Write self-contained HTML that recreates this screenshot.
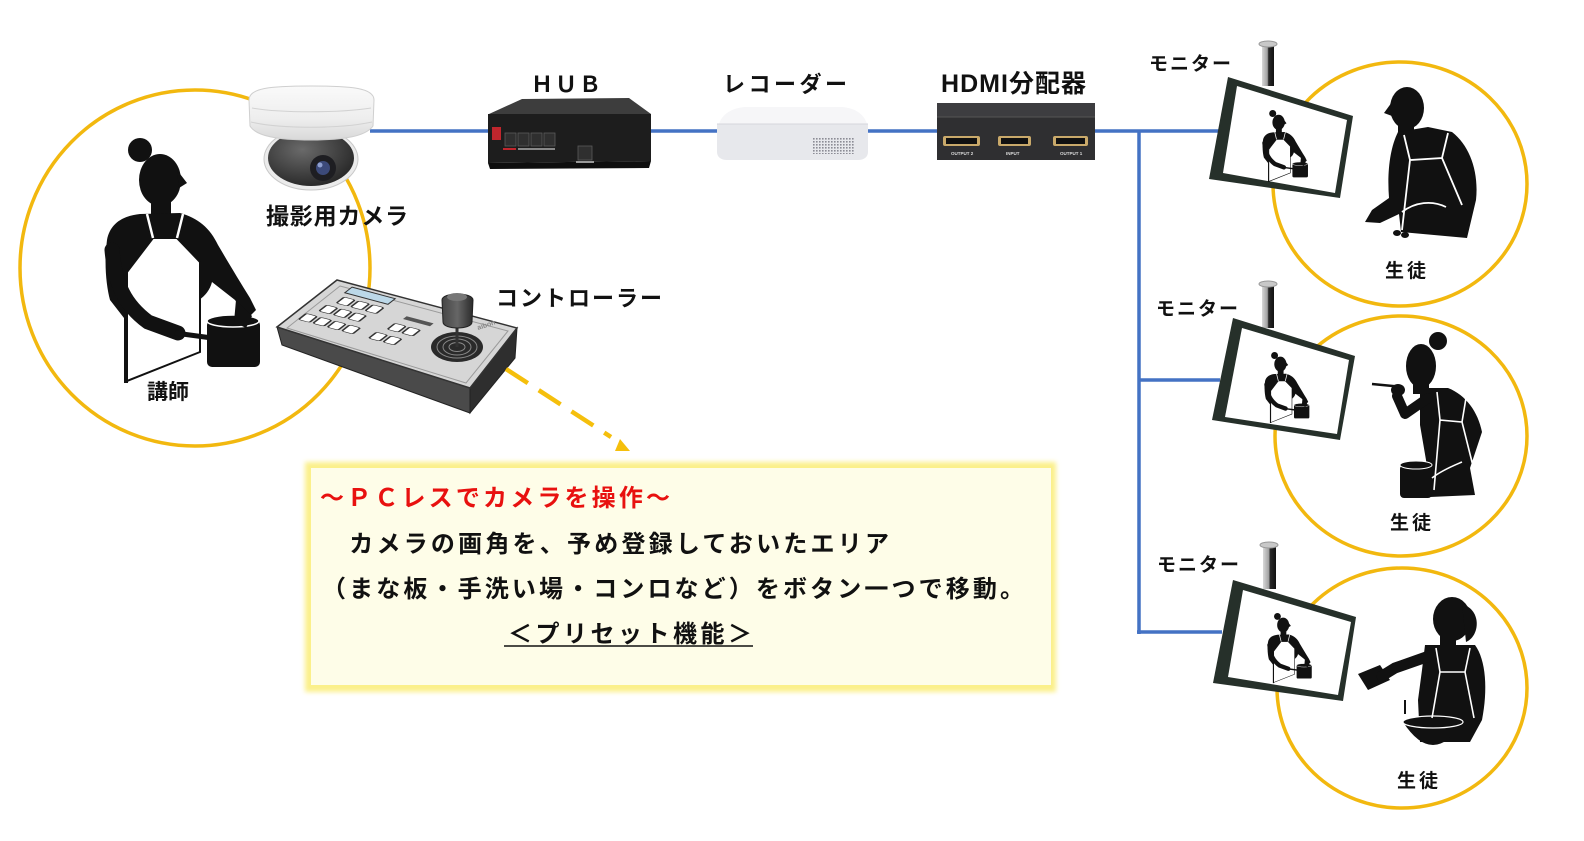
<!DOCTYPE html>
<html><head><meta charset="utf-8">
<style>
html,body{margin:0;padding:0;background:#fff;}
svg{display:block;}
text{font-family:"Liberation Sans","Noto Sans CJK JP",sans-serif;font-weight:bold;}
</style></head><body>
<svg width="1584" height="841" viewBox="0 0 1584 841" xmlns="http://www.w3.org/2000/svg">
<defs>
 <filter id="glow" x="-5%" y="-10%" width="110%" height="120%"><feGaussianBlur stdDeviation="2.5"/></filter>
 <linearGradient id="pole" x1="0" x2="1"><stop offset="0" stop-color="#d8d8d8"/><stop offset="0.45" stop-color="#a0a0a0"/><stop offset="0.55" stop-color="#2a2a2a"/><stop offset="1" stop-color="#111"/></linearGradient>
 <linearGradient id="domeg" x1="0" y1="0" x2="0" y2="1"><stop offset="0" stop-color="#fafafa"/><stop offset="0.6" stop-color="#eeeeee"/><stop offset="1" stop-color="#d9d9d9"/></linearGradient>
 <radialGradient id="lensg" cx="0.4" cy="0.35" r="0.7"><stop offset="0" stop-color="#6a6a6a"/><stop offset="1" stop-color="#262626"/></radialGradient>
 <linearGradient id="knob" x1="0" x2="1"><stop offset="0" stop-color="#444"/><stop offset="0.5" stop-color="#666"/><stop offset="1" stop-color="#2a2a2a"/></linearGradient>
 <pattern id="vent" width="3" height="3" patternUnits="userSpaceOnUse"><rect width="1.6" height="1.6" fill="#8c8c95"/></pattern>
 <g id="teacher">
  <circle cx="140" cy="150" r="12" fill="#111"/>
  <ellipse cx="160" cy="180" rx="21" ry="26" fill="#111"/>
  <path d="M177,170 L187,183 L179,188 Z" fill="#111"/>
  <rect x="151" y="198" width="20" height="20" fill="#111"/>
  <path d="M140,214 C122,216 110,224 107,240 C104,262 106,285 110,300 L124,318 L124,383 L128,383 L130,330 L198,346 L199,300 C205,296 210,290 212,282 L235,300 L248,318 L256,310 L250,298 C240,282 228,262 218,245 C210,228 198,218 180,213 Z" fill="#111"/>
  <path d="M153,238 L177,238 L200,262 L200,352 L127,381 L127,272 Z" fill="#fff" stroke="#111" stroke-width="2"/>
  <path d="M147,214 L153,238 M183,214 L177,238" stroke="#fff" stroke-width="2.5" fill="none"/>
  <path d="M112,250 C115,285 125,305 148,322 L178,333" fill="none" stroke="#111" stroke-width="15" stroke-linecap="round" stroke-linejoin="round"/>
  <path d="M175,333 L212,338" stroke="#111" stroke-width="5"/>
  <rect x="207" y="320" width="53" height="47" rx="5" fill="#111"/>
  <ellipse cx="233" cy="321" rx="26" ry="6" fill="#111" stroke="#fff" stroke-width="1.5"/>
  <path d="M236,300 L252,316 L246,328 L234,322 Z" fill="#111"/>
 </g>
</defs>

<!-- circles -->
<g fill="none" stroke="#f2b80f" stroke-width="3.5">
 <ellipse cx="195" cy="268" rx="175" ry="178"/>
 <ellipse cx="1400" cy="184" rx="127" ry="122"/>
 <ellipse cx="1401" cy="436" rx="126" ry="120"/>
 <ellipse cx="1402" cy="688" rx="125" ry="120"/>
</g>

<!-- blue connectors -->
<g stroke="#4472c4" stroke-width="3.5" fill="none">
 <line x1="370" y1="131" x2="490" y2="131"/>
 <line x1="648" y1="131" x2="719" y2="131"/>
 <line x1="866" y1="131" x2="939" y2="131"/>
 <line x1="1093" y1="131" x2="1220" y2="131"/>
 <line x1="1139" y1="131" x2="1139" y2="634"/>
 <line x1="1139" y1="380" x2="1220" y2="380"/>
 <line x1="1137" y1="632" x2="1222" y2="632"/>
</g>

<!-- teacher -->
<use href="#teacher"/>
<text x="147" y="399" font-size="21" textLength="42" fill="#111">講師</text>

<!-- camera -->
<g>
 <ellipse cx="311" cy="159" rx="47" ry="31" fill="#ebebeb" stroke="#c8c8c8"/>
 <ellipse cx="311" cy="158" rx="43" ry="28" fill="url(#lensg)"/>
 <circle cx="323" cy="168" r="13" fill="#1e1e22"/>
 <circle cx="323" cy="168" r="7" fill="#3c4a7a"/>
 <circle cx="320" cy="165" r="2.5" fill="#8fa0d0"/>
 <path d="M249,100 C249,88 270,86 311,86 C352,86 374,88 374,100 L373,126 C366,136 345,140 311,140 C277,140 256,136 250,126 Z" fill="url(#domeg)" stroke="#cfcfcf"/>
 <path d="M252,108 C280,113 340,113 371,108" stroke="#d2d2d2" fill="none"/>
 <path d="M251,122 C280,129 340,129 372,122" stroke="#d2d2d2" fill="none"/>
</g>
<text x="266" y="224" font-size="23" textLength="142" fill="#111">撮影用カメラ</text>

<!-- controller -->
<g>
 <path d="M277,327 L470,388 L470,413 L282,345 Z" fill="#4a4a4a" stroke="#222"/>
 <path d="M470,388 L517,328 L515,358 L470,413 Z" fill="#2e2e2e" stroke="#222"/>
 <path d="M337,280 L517,328 L470,388 L277,327 Z" fill="#d6d6d6" stroke="#333" stroke-width="1.5"/>
 <path d="M340,286 L508,331 L466,383 L287,328 Z" fill="none" stroke="#9a9a9a"/>
 <g transform="matrix(1.8,0.48,-0.6,0.47,337,280)">
  <rect x="10" y="5" width="24" height="12" fill="#bcd8e8" stroke="#333" stroke-width="1" vector-effect="non-scaling-stroke"/>
  <g fill="#fff" stroke="#333" stroke-width="1" vector-effect="non-scaling-stroke">
   <rect x="12" y="24" width="6" height="13" rx="1.5"/><rect x="20" y="24" width="6" height="13" rx="1.5"/><rect x="28" y="24" width="6" height="13" rx="1.5"/>
   <rect x="9" y="44" width="6" height="13" rx="1.5"/><rect x="17" y="44" width="6" height="13" rx="1.5"/><rect x="25" y="44" width="6" height="13" rx="1.5"/>
   <rect x="5" y="66" width="6" height="13" rx="1.5"/><rect x="13" y="66" width="6" height="13" rx="1.5"/><rect x="21" y="66" width="6" height="13" rx="1.5"/><rect x="29" y="66" width="6" height="13" rx="1.5"/>
   <rect x="47" y="44" width="6" height="13" rx="1.5"/><rect x="55" y="44" width="6" height="13" rx="1.5"/>
   <rect x="44" y="66" width="6" height="13" rx="1.5"/><rect x="52" y="66" width="6" height="13" rx="1.5"/>
  </g>
  <rect x="48" y="28" width="15" height="6" fill="#555"/>
 </g>
 <ellipse cx="457" cy="347" rx="26" ry="15" fill="#2a2a2a"/>
 <g fill="none" stroke="#888" stroke-width="1">
  <ellipse cx="457" cy="347" rx="20" ry="11"/><ellipse cx="457" cy="347" rx="14" ry="8"/><ellipse cx="457" cy="347" rx="8" ry="4.5"/>
 </g>
 <line x1="457" y1="326" x2="457" y2="347" stroke="#333" stroke-width="3"/>
 <path d="M442,300 C442,292 473,292 473,300 L472,322 C472,330 443,330 443,322 Z" fill="url(#knob)" stroke="#222"/>
 <ellipse cx="457" cy="297" rx="10" ry="4" fill="#777"/>
 <text x="478" y="330" font-size="7" fill="#888" transform="rotate(-18 478 330)">aibon</text>
</g>
<text x="496" y="306" font-size="22" textLength="166" fill="#111">コントローラー</text>

<!-- dashed arrow -->
<line x1="506" y1="369" x2="611" y2="437" stroke="#f5bf0c" stroke-width="4.5" stroke-dasharray="26 13"/>
<path d="M615,451 L630,451 L620,439 Z" fill="#f5bf0c"/>

<!-- HUB -->
<g>
 <path d="M489,114 L522,99 L629,98 L651,114 Z" fill="#3d3d3d"/>
 <path d="M488,114 L651,114 L651,161 L488,163 Z" fill="#1d1d1d"/>
 <path d="M488,163 L651,161 L649,168 L490,169 Z" fill="#0e0e0e"/>
 <rect x="492" y="127" width="9" height="13" fill="#c0262d"/>
 <g fill="#2f2f2f" stroke="#5a5a5a" stroke-width="0.8">
  <rect x="505" y="133" width="11" height="13"/><rect x="518" y="133" width="11" height="13"/><rect x="531" y="133" width="11" height="13"/><rect x="544" y="133" width="11" height="13"/>
  <rect x="578" y="146" width="14" height="14"/>
 </g>
 <rect x="503" y="148" width="13" height="2" fill="#c0262d"/>
 <rect x="518" y="148" width="37" height="2" fill="#888"/>
 <rect x="576" y="161" width="18" height="2" fill="#999"/>
</g>
<text x="531" y="92" font-size="22" textLength="70" fill="#111">ＨＵＢ</text>

<!-- recorder -->
<g>
 <path d="M719,124 C722,114 732,108 745,107 L842,107 C855,108 864,114 867,124 Z" fill="#f6f6f8"/>
 <path d="M717,124 L868,124 L868,152 C868,157 864,160 858,160 L727,160 C721,160 717,157 717,152 Z" fill="#e7e8ec"/>
 <line x1="717" y1="124" x2="868" y2="124" stroke="#d5d6dc"/>
 <rect x="813" y="138" width="42" height="16" fill="url(#vent)"/>
</g>
<text x="723" y="92" font-size="22" textLength="124" fill="#111">レコーダー</text>

<!-- HDMI splitter -->
<g>
 <rect x="937" y="103" width="158" height="57" fill="#2f2f31"/>
 <rect x="937" y="103" width="158" height="14" fill="#3d3d40"/>
 <line x1="937" y1="117" x2="1095" y2="117" stroke="#555"/>
 <g fill="#c9a96a"><rect x="943" y="136" width="37" height="10" rx="2"/><rect x="998" y="136" width="33" height="10" rx="2"/><rect x="1053" y="136" width="35" height="10" rx="2"/></g>
 <g fill="#111"><rect x="946" y="138" width="31" height="6"/><rect x="1001" y="138" width="27" height="6"/><rect x="1056" y="138" width="29" height="6"/></g>
 <g fill="#ddd" font-size="4.5"><text x="951" y="155">OUTPUT 2</text><text x="1006" y="155">INPUT</text><text x="1060" y="155">OUTPUT 1</text></g>
</g>
<text x="941" y="92" font-size="25" textLength="145" fill="#111">HDMI分配器</text>

<!-- monitors -->
<g>
 <rect x="1262" y="44" width="12" height="42" fill="url(#pole)"/>
 <ellipse cx="1268" cy="44" rx="9" ry="3" fill="#c8c8c8" stroke="#999"/>
 <polygon points="1228,77 1353,116 1340,198 1209,179" fill="#26302a"/>
 <polygon points="1237,86 1347,120 1335,193 1223,173" fill="#fff"/>
 <use href="#teacher" transform="translate(1263,110) scale(0.294) translate(-107,-138)"/>

 <rect x="1262" y="284" width="12" height="44" fill="url(#pole)"/>
 <ellipse cx="1268" cy="284" rx="9" ry="3" fill="#c8c8c8" stroke="#999"/>
 <polygon points="1233,318 1355,356 1340,440 1212,420" fill="#26302a"/>
 <polygon points="1242,328 1349,360 1337,434 1225,417" fill="#fff"/>
 <use href="#teacher" transform="translate(1265,352) scale(0.29) translate(-107,-138)"/>

 <rect x="1263" y="545" width="13" height="44" fill="url(#pole)"/>
 <ellipse cx="1269" cy="545" rx="9" ry="3" fill="#c8c8c8" stroke="#999"/>
 <polygon points="1233,580 1356,617 1343,701 1213,683" fill="#26302a"/>
 <polygon points="1243,590 1351,622 1338,695 1228,677" fill="#fff"/>
 <use href="#teacher" transform="translate(1268,613) scale(0.286) translate(-107,-138)"/>
</g>
<g font-size="19" fill="#111">
 <text x="1149" y="70" textLength="82">モニター</text>
 <text x="1156" y="315" textLength="82">モニター</text>
 <text x="1157" y="571" textLength="82">モニター</text>
 <text x="1385" y="277" textLength="41">生徒</text>
 <text x="1390" y="529" textLength="41">生徒</text>
 <text x="1397" y="787" textLength="41">生徒</text>
</g>

<!-- student 1 -->
<g fill="#111">
 <ellipse cx="1407" cy="108" rx="17" ry="21"/>
 <path d="M1392,102 L1384,113 L1392,116 Z"/>
 <rect x="1398" y="122" width="16" height="14"/>
 <path d="M1398,132 C1390,148 1387,172 1389,198 L1372,210 L1365,222 L1380,223 L1399,214 L1401,232 L1467,238 L1476,200 C1479,172 1470,146 1452,132 L1428,127 Z"/>
 <ellipse cx="1397" cy="233" rx="4" ry="3"/><ellipse cx="1405" cy="235" rx="4" ry="3"/>
</g>
<path d="M1404,135 L1410,160 L1442,158 L1448,133 M1410,160 L1402,230 M1442,158 L1462,205 M1402,212 C1415,202 1432,200 1446,207" stroke="#fff" stroke-width="1.8" fill="none"/>

<!-- student 2 -->
<g fill="#111">
 <circle cx="1438" cy="341" r="9"/>
 <ellipse cx="1421" cy="366" rx="15" ry="22"/>
 <rect x="1413" y="380" width="16" height="14"/>
 <path d="M1420,388 L1448,388 C1466,395 1478,412 1482,432 L1470,468 L1475,495 L1430,497 L1426,460 L1420,425 Z"/>
 <rect x="1400" y="465" width="32" height="33" rx="4"/>
 <ellipse cx="1398" cy="390" rx="7" ry="6"/>
</g>
<path d="M1428,398 L1405,414 L1397,396" stroke="#111" stroke-width="10" fill="none" stroke-linecap="round" stroke-linejoin="round"/>
<path d="M1372,384 L1403,387" stroke="#111" stroke-width="2.5"/>
<ellipse cx="1416" cy="465" rx="16" ry="4" fill="#111" stroke="#fff" stroke-width="1"/>
<path d="M1437,392 L1440,420 L1462,422 L1466,398 M1440,420 L1434,490 M1462,422 L1474,470 M1432,478 C1442,470 1455,465 1462,462" stroke="#fff" stroke-width="1.6" fill="none"/>

<!-- student 3 -->
<g fill="#111">
 <ellipse cx="1452" cy="619" rx="19" ry="22"/>
 <path d="M1462,604 C1482,610 1480,636 1466,642 Z"/>
 <rect x="1440" y="634" width="16" height="14"/>
 <path d="M1425,645 L1475,645 C1486,660 1488,690 1482,720 L1470,742 L1420,742 L1418,700 L1422,670 Z"/>
 <path d="M1358,674 L1380,665 L1390,680 L1368,690 Z"/>
 <path d="M1403,722 Q1433,768 1463,722 Z"/>
 <rect x="1404" y="700" width="2" height="14"/>
</g>
<path d="M1432,655 L1395,668 L1382,676" stroke="#111" stroke-width="11" fill="none" stroke-linecap="round"/>
<ellipse cx="1433" cy="722" rx="30" ry="6" fill="#111" stroke="#fff" stroke-width="1.2"/>
<path d="M1436,648 L1440,672 L1465,672 L1470,648 M1440,672 L1432,718 M1465,672 L1474,718" stroke="#fff" stroke-width="1.6" fill="none"/>

<!-- text box -->
<rect x="305" y="462" width="751" height="230" fill="#fbf08a" filter="url(#glow)"/>
<rect x="311" y="468" width="740" height="217" fill="#fefde8"/>
<text x="320" y="506" font-size="24" textLength="350" fill="#e8110f">～ＰＣレスでカメラを操作～</text>
<text x="322" y="552" font-size="24" textLength="567" fill="#111">　カメラの画角を、予め登録しておいたエリア</text>
<text x="322" y="597" font-size="24" textLength="702" fill="#111">（まな板・手洗い場・コンロなど）をボタン一つで移動。</text>
<text x="508" y="642" font-size="24" textLength="244" fill="#111">＜プリセット機能＞</text>
<line x1="504" y1="646" x2="753" y2="646" stroke="#111" stroke-width="1.5"/>
</svg>
</body></html>
